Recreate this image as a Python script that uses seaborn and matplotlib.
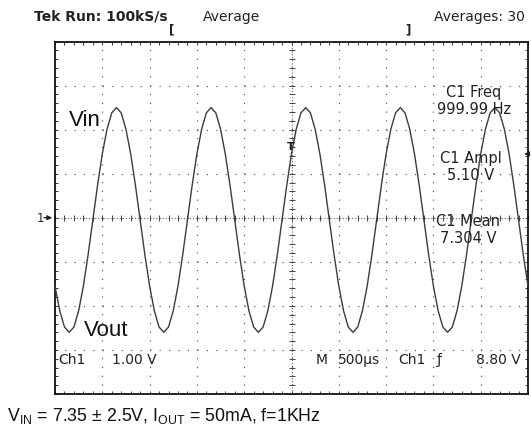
import numpy as np
import matplotlib
matplotlib.use("Agg")
import matplotlib.pyplot as plt
import seaborn as sns

sns.set_style("white")
plt.rcParams["font.family"] = ["DejaVu Sans"]
plt.rcParams["lines.scale_dashes"] = False
plt.rcParams["mathtext.fontset"] = "custom"
plt.rcParams["mathtext.rm"] = "Liberation Sans"

# ---- data read from the scope capture ----
SAMPLE_STEP_MS = 0.05                 # sample spacing of the trace (ms)
N_CYCLES = 5                          # 5 ms shown at 500 us/div, 1 kHz
# one cycle of the Ch1 trace (V), sampled every 0.05 ms starting at t = 0
CYCLE_V = [5.80, 5.24, 4.87, 4.75, 4.87, 5.24, 5.80, 6.51, 7.30, 8.09,
           8.80, 9.36, 9.73, 9.85, 9.73, 9.36, 8.80, 8.09, 7.30, 6.51]
SCREEN_CENTER_V = 7.35                # Ch1 position
VOLTS_PER_DIV = 1.00
TIME_PER_DIV_MS = 0.5
TRIGGER_LEVEL_V = 8.80

voltage = CYCLE_V * N_CYCLES + [CYCLE_V[0]]
time_ms = np.round(np.arange(len(voltage)) * SAMPLE_STEP_MS, 3)

W, H = 531, 431
fig = plt.figure(figsize=(W / 100, H / 100), dpi=100)
ax = fig.add_axes([55 / W, 36 / H, 473 / W, 352.5 / H])


def fp(x, y):
    return x / W, 1 - y / H


ymin = SCREEN_CENTER_V - 4 * VOLTS_PER_DIV
ymax = SCREEN_CENTER_V + 4 * VOLTS_PER_DIV
xmax = 10 * TIME_PER_DIV_MS
ax.set_xlim(0, xmax)
ax.set_ylim(ymin, ymax)

xmaj = np.arange(0, xmax + 1e-9, TIME_PER_DIV_MS)
ymaj = ymin + np.arange(9) * VOLTS_PER_DIV
xmin_t = np.arange(0, xmax + 1e-9, TIME_PER_DIV_MS / 5)
ymin_t = ymin + np.arange(41) * VOLTS_PER_DIV / 5
ax.set_xticks(xmaj)
ax.set_yticks(ymaj)
ax.set_xticks(xmin_t, minor=True)
ax.set_yticks(ymin_t, minor=True)
ax.tick_params(which="both", direction="in", length=2.2, width=0.7,
               color="#333333", top=True, right=True, bottom=True, left=True,
               labelbottom=False, labelleft=False)

# dotted graticule
ax.xaxis.grid(True, which="major", color="#555555", lw=0.85,
              linestyle=(0, (0.85, 5.49)))
ax.yaxis.grid(True, which="major", color="#555555", lw=0.85,
              linestyle=(0, (0.85, 5.96)))
ax.set_axisbelow(True)

# centre cross with fine ticks
xc = xmax / 2
yc = SCREEN_CENTER_V
ax.axvline(xc, color="#666666", lw=0.8, linestyle=(0, (0.8, 1.4)), zorder=1)
ax.axhline(yc, color="#666666", lw=0.8, linestyle=(0, (0.8, 1.4)), zorder=1)
ax.plot(np.full_like(ymin_t, xc), ymin_t, ls="none", marker="_", ms=4,
        mew=0.7, color="#444444", zorder=1)
ax.plot(xmin_t, np.full_like(xmin_t, yc), ls="none", marker="|", ms=4,
        mew=0.7, color="#444444", zorder=1)

for s in ax.spines.values():
    s.set_color("#111111")
    s.set_linewidth(1.3)

# trace
sns.lineplot(x=time_ms, y=voltage, ax=ax, color="#3c3c3c", lw=1.0,
             estimator=None, sort=False, zorder=3)
ax.set_xlabel("")
ax.set_ylabel("")

# ---- header ----
hdr = dict(fontsize=10, color="#222222", va="center")
fig.text(*fp(34, 17), "Tek Run: 100kS/s", ha="left", fontweight="bold", **hdr)
fig.text(*fp(203, 17), "Average", ha="left", **hdr)
fig.text(*fp(525, 17), "Averages: 30", ha="right", **hdr)
fig.text(*fp(172, 30), "[", ha="center", fontsize=8.5, va="center",
         fontweight="bold", color="#222222")
fig.text(*fp(408, 30), "]", ha="center", fontsize=8.5, va="center",
         fontweight="bold", color="#222222")

# labels on screen
big = dict(family="Liberation Sans", fontsize=16, color="#111111")
fig.text(*fp(69, 120), "Vin", ha="left", va="center", **big)
fig.text(*fp(84, 331), "Vout", ha="left", va="center", **big)

meas = dict(fontsize=10.5, color="#222222", ha="center", va="center",
            multialignment="center", linespacing=1.1)
fig.text(*fp(474, 101), "C1 Freq\n999.99 Hz", **meas)
fig.text(*fp(471, 167), "C1 Ampl\n5.10 V", **meas)
fig.text(*fp(468, 230), "C1 Mean\n7.304 V", **meas)

small = dict(fontsize=10, color="#222222", va="center")
fig.text(*fp(58, 360), "Ch1", ha="left", **small)
fig.text(*fp(112, 360), "1.00 V", ha="left", **small)
fig.text(*fp(316, 360), "M", ha="left", **small)
fig.text(*fp(338, 360), "500\u00b5s", ha="left", **small)
fig.text(*fp(398, 360), "Ch1", ha="left", **small)
fig.text(*fp(439, 360), "\u0192", ha="center", **small)
fig.text(*fp(521, 360), "8.80 V", ha="right", **small)

# channel marker and trigger markers
fig.text(*fp(40, 219), "1", ha="center", va="center", fontsize=8.5,
         color="#222222")
ax.annotate("", xy=(0, yc), xycoords="data", xytext=(-10, 0),
            textcoords="offset points",
            arrowprops=dict(arrowstyle="-|>", color="#222222", lw=0.9,
                            mutation_scale=7), annotation_clip=False)
ax.annotate("", xy=(xmax - 0.07, TRIGGER_LEVEL_V), xycoords="data",
            xytext=(6.5, 0), textcoords="offset points",
            arrowprops=dict(arrowstyle="-|>", color="#222222", lw=0.9,
                            mutation_scale=7), annotation_clip=False)
fig.text(*fp(291, 147), "T", ha="center", va="center", fontsize=8,
         fontweight="bold", color="#222222")

# caption
fig.text(*fp(7, 416),
         r"V$_{\mathrm{IN}}$ = 7.35 $\pm$ 2.5V, I$_{\mathrm{OUT}}$ = 50mA, f=1KHz",
         ha="left", va="center", family="Liberation Sans", fontsize=12.8,
         color="#111111")

fig.savefig("out.png", dpi=100)
